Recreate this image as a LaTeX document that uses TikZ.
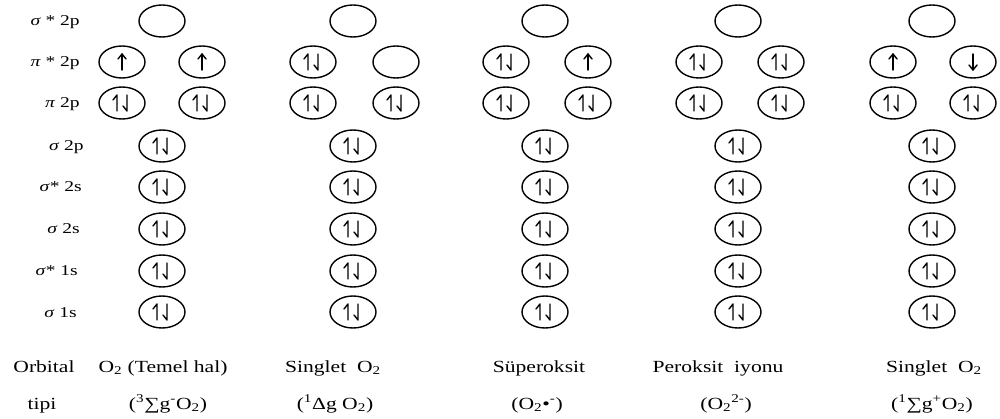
\documentclass[tikz,border=0pt]{standalone}
\usepackage{fontspec}
\setmainfont{Liberation Serif}
\usetikzlibrary{calc,shapes.geometric}

\tikzset{
  orb/.style={draw, line width=1.4pt, ellipse, minimum width=46pt, minimum height=32pt, inner sep=0pt},
  spin/.style={line width=1.4pt, line cap=round, line join=round},
  lvl/.style={anchor=base east, font=\fontsize{15}{15}\selectfont, xscale=1.3, inner sep=0pt},
  speclabel/.style={anchor=base, font=\fontsize{17}{17}\selectfont, xscale=1.27, inner sep=0pt},
}

% electron pair: up harpoon left, down harpoon right
\newcommand\orbpair[1]{%
  \draw[spin] ($(#1)+(-5,8)$) -- ++(0,-16) -- ++(-4,5);
  \draw[spin] ($(#1)+(5,-8)$) -- ++(0,16) -- ++(-4,-5);}
% single electron, spin up
\newcommand\orbup[1]{%
  \draw[spin] ($(#1)+(0,8)$) -- ++(0,-16);
  \draw[spin] ($(#1)+(-4,-3)$) -- ++(4,-5) -- ++(4,5);}
% single electron, spin down
\newcommand\orbdown[1]{%
  \draw[spin] ($(#1)+(0,-8)$) -- ++(0,16);
  \draw[spin] ($(#1)+(-4,3)$) -- ++(4,5) -- ++(4,-5);}

\begin{document}
\begin{tikzpicture}[x=1pt,y=-1pt]
\useasboundingbox (0,0) rectangle (1000,419);

% level labels
\node[lvl] (l1) at (80,26) {\textit{σ} * 2p};
\node[lvl] (l2) at (80,67) {\textit{π} * 2p};
\node[lvl] (l3) at (80,108) {\textit{π} 2p};
\node[lvl] (l4) at (84,151) {\textit{σ} 2p};
\node[lvl] (l5) at (82,192) {\textit{σ}* 2s};
\node[lvl] (l6) at (80,234) {\textit{σ} 2s};
\node[lvl] (l7) at (78,276) {\textit{σ}* 1s};
\node[lvl] (l8) at (77,317) {\textit{σ} 1s};

% orbitals of each species: column / sigma x / pi left x / pi right x
\foreach \c/\sx/\pl/\pr in {1/162/122/202, 2/353/313/396, 3/545/506/588, 4/738/699/781, 5/932/893/973}{
  \node[orb] (c\c-ss2p) at (\sx,21) {};
  \node[orb] (c\c-ps2pa) at (\pl,62) {};
  \node[orb] (c\c-ps2pb) at (\pr,62) {};
  \node[orb] (c\c-p2pa) at (\pl,103) {};
  \node[orb] (c\c-p2pb) at (\pr,103) {};
  \node[orb] (c\c-s2p) at (\sx,146) {};
  \node[orb] (c\c-ss2s) at (\sx,187) {};
  \node[orb] (c\c-s2s) at (\sx,229) {};
  \node[orb] (c\c-ss1s) at (\sx,271) {};
  \node[orb] (c\c-s1s) at (\sx,312) {};
  \foreach \o in {p2pa,p2pb,s2p,ss2s,s2s,ss1s,s1s}{\orbpair{c\c-\o}}
}

% partly filled pi* levels
\orbup{c1-ps2pa} \orbup{c1-ps2pb}
\orbpair{c2-ps2pa}
\orbpair{c3-ps2pa} \orbup{c3-ps2pb}
\orbpair{c4-ps2pa} \orbpair{c4-ps2pb}
\orbup{c5-ps2pa} \orbdown{c5-ps2pb}

% species names
\node[speclabel] (n0) at (44,372) {Orbital};
\node[speclabel] (n1) at (163,372) {O\textsubscript{2} (Temel hal)};
\node[speclabel] (n2) at (333,372) {Singlet\ \ O\textsubscript{2}};
\node[speclabel] (n3) at (539,372) {Süperoksit};
\node[speclabel] (n4) at (718,372) {Peroksit\ \ iyonu};
\node[speclabel] (n5) at (934,372) {Singlet\ \ O\textsubscript{2}};

% term symbols
\node[speclabel] (t0) at (42,409) {tipi};
\node[speclabel] (t1) at (168,409) {(\textsuperscript{3}∑g\textsuperscript{-}O\textsubscript{2})};
\node[speclabel] (t2) at (335,409) {(\textsuperscript{1}Δg O\textsubscript{2})};
\node[speclabel] (t3) at (537,409) {(O\textsubscript{2}•\textsuperscript{-})};
\node[speclabel] (t4) at (726,409) {(O\textsubscript{2}\textsuperscript{2-})};
\node[speclabel] (t5) at (932,409) {(\textsuperscript{1}∑g\textsuperscript{+}O\textsubscript{2})};
\end{tikzpicture}
\end{document}
